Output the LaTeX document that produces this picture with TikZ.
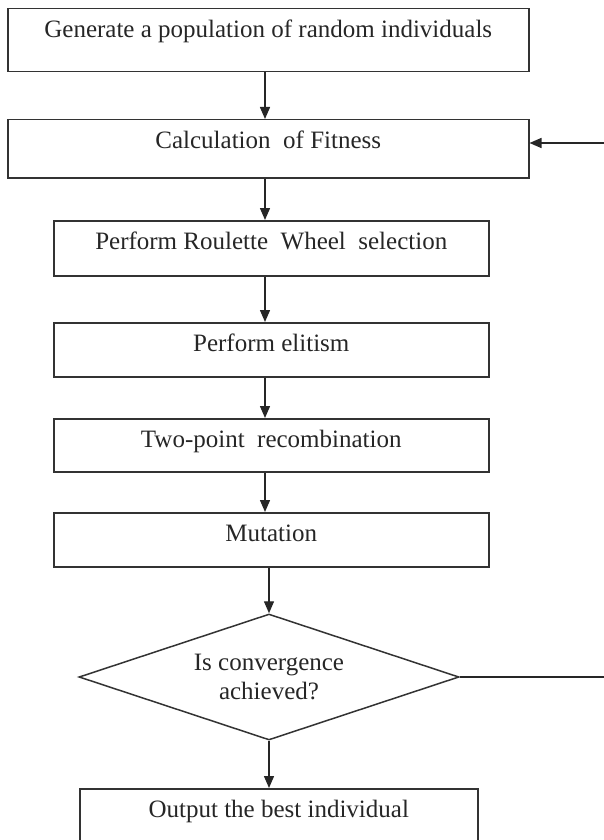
\documentclass[tikz,border=0pt]{standalone}
\usepackage{fontspec}
\setmainfont{Liberation Serif}
\usetikzlibrary{arrows.meta,shapes.geometric}

\begin{document}
\begin{tikzpicture}[x=1pt,y=-1pt,
	stepbox/.style={draw=black!80,line width=1.5pt,inner sep=0pt,text height=29pt,anchor=north west,font=\fontsize{25}{29}\selectfont,text=black!85},
	testbox/.style={draw=black!80,line width=1.5pt,diamond,aspect=3,minimum width=380pt,minimum height=126pt,inner sep=0pt,align=center,font=\fontsize{25}{29}\selectfont,text=black!85},
	flow/.style={draw=black!85,line width=1.4pt,-{Triangle[length=12pt,width=10pt]}}]
				\useasboundingbox (0,0) rectangle (604,840);
				\clip (0,0) rectangle (604,840);
				\node[stepbox,minimum width=521pt,text depth=34pt] (b1) at (7,8) {Generate a population of random individuals};
				\node[stepbox,minimum width=521pt,text depth=29pt] (b2) at (7,119) {Calculation\ \ of Fitness};
				\node[stepbox,minimum width=435pt,text depth=26pt] (b3) at (53,220) {Perform Roulette\ \ Wheel\ \ selection};
				\node[stepbox,minimum width=435pt,text depth=25pt] (b4) at (53,322) {Perform elitism};
				\node[stepbox,minimum width=435pt,text depth=24pt] (b5) at (53,418) {Two-point\ \ recombination};
				\node[stepbox,minimum width=435pt,text depth=25pt] (b6) at (53,512) {Mutation};
				\node[testbox] (d) at (269,677) {Is convergence\\achieved?};
				\node[stepbox,minimum width=398pt,text depth=40pt] (b7) at (79,788) {Output the best individual};
				\coordinate (axis) at (265,0);
				\coordinate (loop) at (620,143);
				\draw[flow] (b1.south -| axis) -- (b2.north -| axis);
				\draw[flow] (b2.south -| axis) -- (b3.north -| axis);
				\draw[flow] (b3.south -| axis) -- (b4.north -| axis);
				\draw[flow] (b4.south -| axis) -- (b5.north -| axis);
				\draw[flow] (b5.south -| axis) -- (b6.north -| axis);
				\draw[flow] (b6.south -| d.north) -- (d.north);
				\draw[flow] (d.south) -- (d.south |- b7.north);
				\draw[flow] (d.east) -| (loop) -- (loop -| b2.east);
\end{tikzpicture}
\end{document}
